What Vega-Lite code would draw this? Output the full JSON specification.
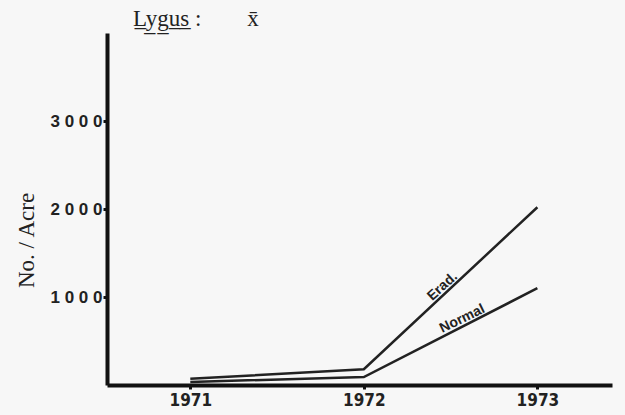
{
  "$schema": "https://vega.github.io/schema/vega-lite/v6.json",
  "autosize": "none",
  "width": 505,
  "height": 352,
  "padding": {"left": 107, "top": 33, "right": 13, "bottom": 30},
  "background": "#f7f7f7",
  "config": {"view": {"stroke": null}},
  "title": {
    "text": "L̲y̲g̲u̲s̲ :\u00a0\u00a0\u00a0\u00a0\u00a0\u00a0\u00a0\u00a0x̄",
    "anchor": "start",
    "frame": "group",
    "dx": 26,
    "offset": 2,
    "font": "Liberation Serif",
    "fontSize": 23,
    "fontWeight": "normal",
    "color": "#222"
  },
  "datasets": {
    "lines": [
      {"year": 1971, "value": 70, "series": "Erad."},
      {"year": 1972, "value": 180, "series": "Erad."},
      {"year": 1973, "value": 2020, "series": "Erad."},
      {"year": 1971, "value": 35, "series": "Normal"},
      {"year": 1972, "value": 90, "series": "Normal"},
      {"year": 1973, "value": 1100, "series": "Normal"}
    ],
    "labels": [
      {"year": 1972.48, "value": 1060, "label": "Erad.", "angle": -42},
      {"year": 1972.585, "value": 681, "label": "Normal", "angle": -26}
    ]
  },
  "layer": [
    {
      "data": {"name": "lines"},
      "mark": {"type": "line", "color": "#222", "strokeWidth": 2.5},
      "encoding": {
        "x": {
          "field": "year", "type": "quantitative",
          "scale": {"domain": [1970.52, 1973.43], "nice": false, "zero": false},
          "axis": {
            "values": [1971, 1972, 1973], "format": "d", "title": null, "grid": false,
            "domainWidth": 4, "domainColor": "#111", "tickColor": "#111", "tickWidth": 3, "tickSize": 4,
            "labelFont": "DejaVu Sans Condensed", "labelFontSize": 17, "labelFontWeight": "bold",
            "labelColor": "#222", "labelPadding": 3
          }
        },
        "y": {
          "field": "value", "type": "quantitative",
          "scale": {"domain": [0, 4000], "nice": false},
          "axis": {
            "values": [1000, 2000, 3000], "format": "d", "grid": false, "title": "No. / Acre",
            "domainWidth": 4, "domainColor": "#111", "tickColor": "#111", "tickWidth": 3, "tickSize": 4,
            "labelFont": "Liberation Sans", "labelFontSize": 17, "labelFontWeight": "bold",
            "labelColor": "#222", "labelPadding": 1,
            "labelExpr": "replace(datum.label, regexp('(\\\\d)(?=\\\\d)', 'g'), '$1 ')",
            "titleFont": "Liberation Serif", "titleFontSize": 23, "titleFontWeight": "normal",
            "titleColor": "#222", "titleX": -69, "titleY": 207, "titleAngle": 270
          }
        },
        "detail": {"field": "series"}
      }
    },
    {
      "data": {"name": "labels"},
      "mark": {"type": "text", "font": "Liberation Sans", "fontSize": 14, "fontWeight": "bold", "color": "#222", "baseline": "bottom"},
      "encoding": {
        "x": {"field": "year", "type": "quantitative"},
        "y": {"field": "value", "type": "quantitative"},
        "text": {"field": "label"},
        "angle": {"field": "angle", "type": "quantitative", "scale": null}
      }
    }
  ]
}
